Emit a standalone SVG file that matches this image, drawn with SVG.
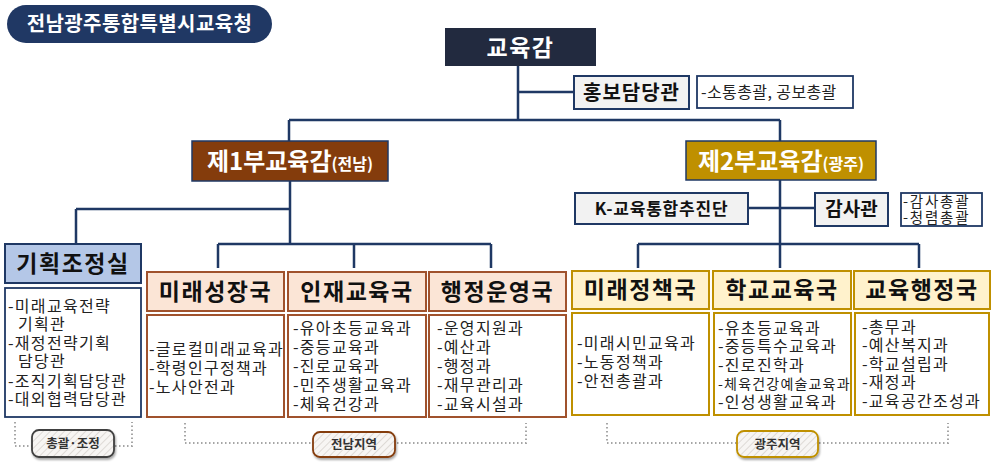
<svg xmlns="http://www.w3.org/2000/svg" width="992" height="463" viewBox="0 0 992 463">
<defs>
<pattern id="hatch" width="5" height="5" patternUnits="userSpaceOnUse" patternTransform="rotate(45)">
<rect width="5" height="5" fill="#f7f5f3"/>
<line x1="0" y1="0" x2="0" y2="5" stroke="#dedad6" stroke-width="2"/>
</pattern>
<filter id="sh" x="-20%" y="-30%" width="140%" height="170%">
<feDropShadow dx="1" dy="2" stdDeviation="1.2" flood-color="#000" flood-opacity="0.35"/>
</filter>
</defs>
<style>
text{font-family:"Noto Sans CJK KR","Noto Sans",sans-serif;}
.conn{stroke:#1f3864;stroke-width:2.5;fill:none;}
.dot{stroke:#a6a6a6;stroke-width:2;stroke-dasharray:1.5 2.5;fill:none;}
.gray{fill:#f2f2f2;stroke:#1f3864;stroke-width:2;}
.wbox{fill:#fff;stroke:#1f3864;stroke-width:1.8;}
.jh{fill:#fbe5d6;stroke:#a0522d;stroke-width:2;}
.jl{fill:#fff;stroke:#a0522d;stroke-width:2;}
.gh{fill:#fff2cc;stroke:#bf9000;stroke-width:2;}
.gl{fill:#fff;stroke:#bf9000;stroke-width:2;}
.hd{font-size:23px;font-weight:700;fill:#111;text-anchor:middle;letter-spacing:1.5px;}
.li{font-size:16px;fill:#222;letter-spacing:1.3px;}
.pill{font-size:12.5px;font-weight:700;fill:#333;text-anchor:middle;}
</style>

<g id="title">
<rect x="7" y="5" width="265" height="38" rx="19" fill="#203864"/>
<text x="139.5" y="31" font-size="20" font-weight="700" fill="#fff" text-anchor="middle" letter-spacing="0.4">전남광주통합특별시교육청</text>
</g>

<g id="connectors">
<path class="conn" d="M518,66 V120 M518,92 H574 M289,120 H780 M289,120 V141 M780,120 V141"/>
<path class="conn" d="M290,181 V244 M76,209 H290 M76,209 V244 M218,244 H491 M218,244 V268 M354,244 V268 M491,244 V268"/>
<path class="conn" d="M780,180 V244 M748,208 H815 M638,244 H919 M638,244 V268 M780,244 V268 M919,244 V268"/>
<path class="dot" d="M15,422 V446 H132 V422"/>
<path class="dot" d="M185,423 V443 H526 V423"/>
<path class="dot" d="M607,423 V443 H948 V423"/>
</g>

<g id="superintendent">
<rect x="445" y="28" width="151" height="38" fill="#222a3f"/>
<text x="520.5" y="56" font-size="23" font-weight="700" fill="#fff" text-anchor="middle" letter-spacing="1.5">교육감</text>
</g>

<g id="pr">
<rect class="gray" x="574" y="76" width="115" height="33"/>
<text x="631.5" y="100" font-size="20" font-weight="700" fill="#111" text-anchor="middle" letter-spacing="1">홍보담당관</text>
</g>
<g id="pr-desc">
<rect class="wbox" x="697" y="76" width="156" height="32"/>
<text x="701" y="98" font-size="16" fill="#222" letter-spacing="0.4">-소통총괄, 공보총괄</text>
</g>

<g id="deputy1">
<rect x="192" y="141" width="196" height="40" fill="#843c0c" stroke="#1f3864" stroke-width="1.5"/>
<text x="290" y="170" fill="#fff" font-weight="700" text-anchor="middle"><tspan font-size="24">제1부교육감</tspan><tspan font-size="16">(전남)</tspan></text>
</g>

<g id="deputy2">
<rect x="686" y="141" width="190" height="39" fill="#bf9000" stroke="#1f3864" stroke-width="1.5"/>
<text x="781" y="170" fill="#fff" font-weight="700" text-anchor="middle"><tspan font-size="24">제2부교육감</tspan><tspan font-size="16">(광주)</tspan></text>
</g>

<g id="k-edu">
<rect class="gray" x="575" y="193" width="173" height="31"/>
<text x="661.5" y="215" font-size="17" font-weight="700" fill="#111" text-anchor="middle" letter-spacing="0.8">K-교육통합추진단</text>
</g>

<g id="audit">
<rect class="gray" x="815" y="193" width="73" height="33"/>
<text x="851.5" y="216" font-size="19" font-weight="700" fill="#111" text-anchor="middle">감사관</text>
</g>
<g id="audit-desc">
<rect class="wbox" x="901" y="193" width="81" height="33"/>
<text x="903" y="207" font-size="14.5" fill="#222" letter-spacing="1.8">-감사총괄</text>
<text x="903" y="223" font-size="14.5" fill="#222" letter-spacing="1.8">-청렴총괄</text>
</g>

<g id="planning">
<rect x="5" y="244" width="136" height="39" fill="#b4c7e7" stroke="#1f3864" stroke-width="2"/>
<text class="hd" x="73" y="272">기획조정실</text>
<rect class="wbox" x="5" y="288" width="136" height="129"/>
<text class="li" x="8" y="312">-미래교육전략</text>
<text class="li" x="18" y="330">기획관</text>
<text class="li" x="8" y="349">-재정전략기획</text>
<text class="li" x="18" y="367">담당관</text>
<text class="li" x="8" y="387">-조직기획담당관</text>
<text class="li" x="8" y="405">-대외협력담당관</text>
</g>

<g id="future-growth">
<rect class="jh" x="147" y="272" width="137" height="39"/>
<text class="hd" x="215.5" y="300">미래성장국</text>
<rect class="jl" x="147" y="315" width="137" height="102"/>
<text class="li" x="149" y="355">-글로컬미래교육과</text>
<text class="li" x="149" y="374">-학령인구정책과</text>
<text class="li" x="149" y="393">-노사안전과</text>
</g>

<g id="talent-edu">
<rect class="jh" x="288" y="272" width="138" height="39"/>
<text class="hd" x="357" y="300">인재교육국</text>
<rect class="jl" x="288" y="315" width="138" height="102"/>
<text class="li" x="293" y="334">-유아초등교육과</text>
<text class="li" x="293" y="353">-중등교육과</text>
<text class="li" x="293" y="372">-진로교육과</text>
<text class="li" x="293" y="391">-민주생활교육과</text>
<text class="li" x="293" y="410">-체육건강과</text>
</g>

<g id="admin-ops">
<rect class="jh" x="429" y="272" width="137" height="39"/>
<text class="hd" x="497.5" y="300">행정운영국</text>
<rect class="jl" x="429" y="315" width="137" height="102"/>
<text class="li" x="437" y="334">-운영지원과</text>
<text class="li" x="437" y="353">-예산과</text>
<text class="li" x="437" y="372">-행정과</text>
<text class="li" x="437" y="391">-재무관리과</text>
<text class="li" x="437" y="410">-교육시설과</text>
</g>

<g id="future-policy">
<rect class="gh" x="572" y="271" width="137" height="38"/>
<text class="hd" x="640.5" y="298">미래정책국</text>
<rect class="gl" x="572" y="313" width="137" height="102"/>
<text class="li" x="577" y="349">-미래시민교육과</text>
<text class="li" x="577" y="368">-노동정책과</text>
<text class="li" x="577" y="387">-안전총괄과</text>
</g>

<g id="school-edu">
<rect class="gh" x="713" y="271" width="138" height="38"/>
<text class="hd" x="782" y="298">학교교육국</text>
<rect class="gl" x="714" y="313" width="137" height="102"/>
<text class="li" x="718" y="334">-유초등교육과</text>
<text class="li" x="718" y="352">-중등특수교육과</text>
<text class="li" x="718" y="371">-진로진학과</text>
<text x="718" y="389" font-size="14" fill="#222" letter-spacing="1.2">-체육건강예술교육과</text>
<text class="li" x="718" y="408">-인성생활교육과</text>
</g>

<g id="edu-admin">
<rect class="gh" x="854" y="271" width="136" height="38"/>
<text class="hd" x="922" y="298">교육행정국</text>
<rect class="gl" x="855" y="313" width="134" height="102"/>
<text class="li" x="862" y="333">-총무과</text>
<text class="li" x="862" y="351">-예산복지과</text>
<text class="li" x="862" y="370">-학교설립과</text>
<text class="li" x="862" y="388">-재정과</text>
<text class="li" x="862" y="407">-교육공간조성과</text>
</g>

<g id="label-coord">
<rect x="32" y="430" width="82" height="27" rx="7" fill="url(#hatch)" stroke="#404040" stroke-width="1.8" filter="url(#sh)"/>
<text class="pill" x="73" y="448">총괄·조정</text>
</g>
<g id="label-jeonnam">
<rect x="313" y="432" width="82" height="25" rx="7" fill="url(#hatch)" stroke="#843c0c" stroke-width="1.8" filter="url(#sh)"/>
<text class="pill" x="354" y="449">전남지역</text>
</g>
<g id="label-gwangju">
<rect x="737" y="431" width="81" height="26" rx="7" fill="url(#hatch)" stroke="#bf9000" stroke-width="1.8" filter="url(#sh)"/>
<text class="pill" x="777.5" y="449">광주지역</text>
</g>
</svg>
